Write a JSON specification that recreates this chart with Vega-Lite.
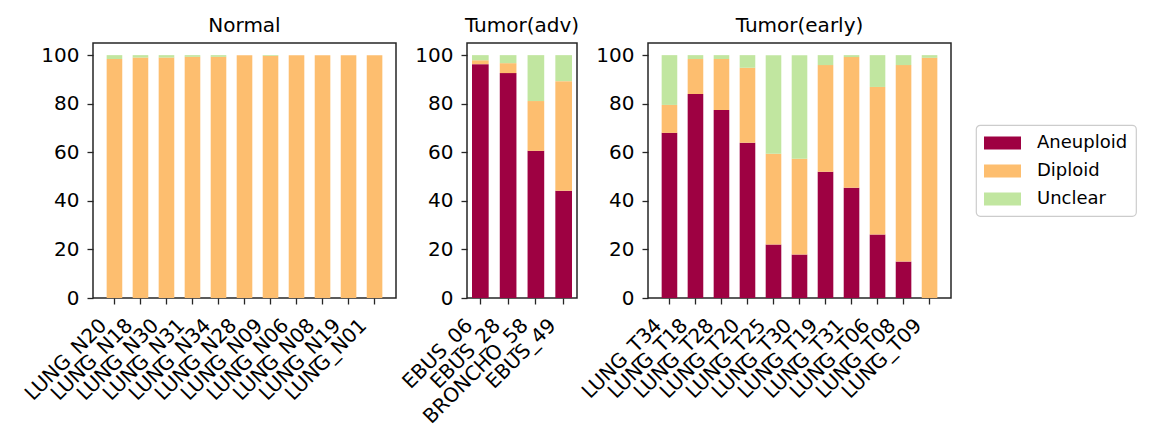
{
  "$schema": "https://vega.github.io/schema/vega-lite/v6.json",
  "padding": {"left": 20, "top": 15, "right": 0, "bottom": 0},
  "background": "white",
  "data": {"values": [
    {"group": "Normal", "sample": "LUNG_N20", "status": "Aneuploid", "value": 0},
    {"group": "Normal", "sample": "LUNG_N20", "status": "Diploid", "value": 98.4},
    {"group": "Normal", "sample": "LUNG_N20", "status": "Unclear", "value": 1.6},
    {"group": "Normal", "sample": "LUNG_N18", "status": "Aneuploid", "value": 0},
    {"group": "Normal", "sample": "LUNG_N18", "status": "Diploid", "value": 99.0},
    {"group": "Normal", "sample": "LUNG_N18", "status": "Unclear", "value": 1.0},
    {"group": "Normal", "sample": "LUNG_N30", "status": "Aneuploid", "value": 0},
    {"group": "Normal", "sample": "LUNG_N30", "status": "Diploid", "value": 99.0},
    {"group": "Normal", "sample": "LUNG_N30", "status": "Unclear", "value": 1.0},
    {"group": "Normal", "sample": "LUNG_N31", "status": "Aneuploid", "value": 0},
    {"group": "Normal", "sample": "LUNG_N31", "status": "Diploid", "value": 99.3},
    {"group": "Normal", "sample": "LUNG_N31", "status": "Unclear", "value": 0.7},
    {"group": "Normal", "sample": "LUNG_N34", "status": "Aneuploid", "value": 0},
    {"group": "Normal", "sample": "LUNG_N34", "status": "Diploid", "value": 99.3},
    {"group": "Normal", "sample": "LUNG_N34", "status": "Unclear", "value": 0.7},
    {"group": "Normal", "sample": "LUNG_N28", "status": "Aneuploid", "value": 0},
    {"group": "Normal", "sample": "LUNG_N28", "status": "Diploid", "value": 100},
    {"group": "Normal", "sample": "LUNG_N28", "status": "Unclear", "value": 0},
    {"group": "Normal", "sample": "LUNG_N09", "status": "Aneuploid", "value": 0},
    {"group": "Normal", "sample": "LUNG_N09", "status": "Diploid", "value": 99.7},
    {"group": "Normal", "sample": "LUNG_N09", "status": "Unclear", "value": 0.3},
    {"group": "Normal", "sample": "LUNG_N06", "status": "Aneuploid", "value": 0},
    {"group": "Normal", "sample": "LUNG_N06", "status": "Diploid", "value": 100},
    {"group": "Normal", "sample": "LUNG_N06", "status": "Unclear", "value": 0},
    {"group": "Normal", "sample": "LUNG_N08", "status": "Aneuploid", "value": 0},
    {"group": "Normal", "sample": "LUNG_N08", "status": "Diploid", "value": 100},
    {"group": "Normal", "sample": "LUNG_N08", "status": "Unclear", "value": 0},
    {"group": "Normal", "sample": "LUNG_N19", "status": "Aneuploid", "value": 0},
    {"group": "Normal", "sample": "LUNG_N19", "status": "Diploid", "value": 100},
    {"group": "Normal", "sample": "LUNG_N19", "status": "Unclear", "value": 0},
    {"group": "Normal", "sample": "LUNG_N01", "status": "Aneuploid", "value": 0},
    {"group": "Normal", "sample": "LUNG_N01", "status": "Diploid", "value": 100},
    {"group": "Normal", "sample": "LUNG_N01", "status": "Unclear", "value": 0},
    {"group": "Tumor(adv)", "sample": "EBUS_06", "status": "Aneuploid", "value": 96.3},
    {"group": "Tumor(adv)", "sample": "EBUS_06", "status": "Diploid", "value": 1.6},
    {"group": "Tumor(adv)", "sample": "EBUS_06", "status": "Unclear", "value": 2.1},
    {"group": "Tumor(adv)", "sample": "EBUS_28", "status": "Aneuploid", "value": 92.6},
    {"group": "Tumor(adv)", "sample": "EBUS_28", "status": "Diploid", "value": 4.1},
    {"group": "Tumor(adv)", "sample": "EBUS_28", "status": "Unclear", "value": 3.3},
    {"group": "Tumor(adv)", "sample": "BRONCHO_58", "status": "Aneuploid", "value": 60.6},
    {"group": "Tumor(adv)", "sample": "BRONCHO_58", "status": "Diploid", "value": 20.5},
    {"group": "Tumor(adv)", "sample": "BRONCHO_58", "status": "Unclear", "value": 18.9},
    {"group": "Tumor(adv)", "sample": "EBUS_49", "status": "Aneuploid", "value": 44.2},
    {"group": "Tumor(adv)", "sample": "EBUS_49", "status": "Diploid", "value": 45.1},
    {"group": "Tumor(adv)", "sample": "EBUS_49", "status": "Unclear", "value": 10.7},
    {"group": "Tumor(early)", "sample": "LUNG_T34", "status": "Aneuploid", "value": 68.0},
    {"group": "Tumor(early)", "sample": "LUNG_T34", "status": "Diploid", "value": 11.5},
    {"group": "Tumor(early)", "sample": "LUNG_T34", "status": "Unclear", "value": 20.5},
    {"group": "Tumor(early)", "sample": "LUNG_T18", "status": "Aneuploid", "value": 84.0},
    {"group": "Tumor(early)", "sample": "LUNG_T18", "status": "Diploid", "value": 14.4},
    {"group": "Tumor(early)", "sample": "LUNG_T18", "status": "Unclear", "value": 1.6},
    {"group": "Tumor(early)", "sample": "LUNG_T28", "status": "Aneuploid", "value": 77.4},
    {"group": "Tumor(early)", "sample": "LUNG_T28", "status": "Diploid", "value": 21.0},
    {"group": "Tumor(early)", "sample": "LUNG_T28", "status": "Unclear", "value": 1.6},
    {"group": "Tumor(early)", "sample": "LUNG_T20", "status": "Aneuploid", "value": 63.9},
    {"group": "Tumor(early)", "sample": "LUNG_T20", "status": "Diploid", "value": 30.9},
    {"group": "Tumor(early)", "sample": "LUNG_T20", "status": "Unclear", "value": 5.2},
    {"group": "Tumor(early)", "sample": "LUNG_T25", "status": "Aneuploid", "value": 22.0},
    {"group": "Tumor(early)", "sample": "LUNG_T25", "status": "Diploid", "value": 37.4},
    {"group": "Tumor(early)", "sample": "LUNG_T25", "status": "Unclear", "value": 40.6},
    {"group": "Tumor(early)", "sample": "LUNG_T30", "status": "Aneuploid", "value": 17.9},
    {"group": "Tumor(early)", "sample": "LUNG_T30", "status": "Diploid", "value": 39.4},
    {"group": "Tumor(early)", "sample": "LUNG_T30", "status": "Unclear", "value": 42.7},
    {"group": "Tumor(early)", "sample": "LUNG_T19", "status": "Aneuploid", "value": 52.0},
    {"group": "Tumor(early)", "sample": "LUNG_T19", "status": "Diploid", "value": 43.9},
    {"group": "Tumor(early)", "sample": "LUNG_T19", "status": "Unclear", "value": 4.1},
    {"group": "Tumor(early)", "sample": "LUNG_T31", "status": "Aneuploid", "value": 45.4},
    {"group": "Tumor(early)", "sample": "LUNG_T31", "status": "Diploid", "value": 53.8},
    {"group": "Tumor(early)", "sample": "LUNG_T31", "status": "Unclear", "value": 0.8},
    {"group": "Tumor(early)", "sample": "LUNG_T06", "status": "Aneuploid", "value": 26.1},
    {"group": "Tumor(early)", "sample": "LUNG_T06", "status": "Diploid", "value": 60.8},
    {"group": "Tumor(early)", "sample": "LUNG_T06", "status": "Unclear", "value": 13.1},
    {"group": "Tumor(early)", "sample": "LUNG_T08", "status": "Aneuploid", "value": 15.0},
    {"group": "Tumor(early)", "sample": "LUNG_T08", "status": "Diploid", "value": 80.9},
    {"group": "Tumor(early)", "sample": "LUNG_T08", "status": "Unclear", "value": 4.1},
    {"group": "Tumor(early)", "sample": "LUNG_T09", "status": "Aneuploid", "value": 0},
    {"group": "Tumor(early)", "sample": "LUNG_T09", "status": "Diploid", "value": 98.9},
    {"group": "Tumor(early)", "sample": "LUNG_T09", "status": "Unclear", "value": 1.1}
  ]},
  "bounds": "flush",
  "spacing": 71,
  "hconcat": [
    {
      "width": 303, "height": 255,
      "title": "Normal",
      "transform": [{"filter": "datum.group === 'Normal'"}],
      "mark": {"type": "bar"},
      "encoding": {
        "x": {"field": "sample", "type": "nominal",
          "sort": ["LUNG_N20","LUNG_N18","LUNG_N30","LUNG_N31","LUNG_N34","LUNG_N28","LUNG_N09","LUNG_N06","LUNG_N08","LUNG_N19","LUNG_N01"],
          "scale": {"paddingInner": 0.4, "paddingOuter": 0.525}, "axis": {"title": null}},
        "y": {"field": "value", "type": "quantitative", "stack": "zero", "scale": {"domain": [0, 105], "nice": false}, "axis": {"title": null, "values": [0, 20, 40, 60, 80, 100]}},
        "color": {"field": "status", "type": "nominal", "scale": {"domain": ["Aneuploid", "Diploid", "Unclear"], "range": ["#9e0142", "#fdbe6f", "#c1e6a0"]}, "legend": {"title": null, "orient": "none", "legendX": 883, "legendY": 82}},
        "order": {"field": "status"}
      }
    },
    {
      "width": 110, "height": 255,
      "title": "Tumor(adv)",
      "transform": [{"filter": "datum.group === 'Tumor(adv)'"}],
      "mark": {"type": "bar"},
      "encoding": {
        "x": {"field": "sample", "type": "nominal",
          "sort": ["EBUS_06","EBUS_28","BRONCHO_58","EBUS_49"],
          "scale": {"paddingInner": 0.4, "paddingOuter": 0.18}, "axis": {"title": null}},
        "y": {"field": "value", "type": "quantitative", "stack": "zero", "scale": {"domain": [0, 105], "nice": false}, "axis": {"title": null, "values": [0, 20, 40, 60, 80, 100]}},
        "color": {"field": "status", "type": "nominal", "scale": {"domain": ["Aneuploid", "Diploid", "Unclear"], "range": ["#9e0142", "#fdbe6f", "#c1e6a0"]}, "legend": {"title": null, "orient": "none", "legendX": 883, "legendY": 82}},
        "order": {"field": "status"}
      }
    },
    {
      "width": 303, "height": 255,
      "title": "Tumor(early)",
      "transform": [{"filter": "datum.group === 'Tumor(early)'"}],
      "mark": {"type": "bar"},
      "encoding": {
        "x": {"field": "sample", "type": "nominal",
          "sort": ["LUNG_T34","LUNG_T18","LUNG_T28","LUNG_T20","LUNG_T25","LUNG_T30","LUNG_T19","LUNG_T31","LUNG_T06","LUNG_T08","LUNG_T09"],
          "scale": {"paddingInner": 0.4, "paddingOuter": 0.525}, "axis": {"title": null}},
        "y": {"field": "value", "type": "quantitative", "stack": "zero", "scale": {"domain": [0, 105], "nice": false}, "axis": {"title": null, "values": [0, 20, 40, 60, 80, 100]}},
        "color": {"field": "status", "type": "nominal", "scale": {"domain": ["Aneuploid", "Diploid", "Unclear"], "range": ["#9e0142", "#fdbe6f", "#c1e6a0"]}, "legend": {"title": null, "orient": "none", "legendX": 883, "legendY": 82}},
        "order": {"field": "status"}
      }
    }
  ],
  "resolve": {"scale": {"color": "shared"}},
  "config": {
    "font": "DejaVu Sans",
    "view": {"stroke": "#262626", "strokeWidth": 1.5},
    "axis": {
      "domain": false, "grid": false,
      "labelFont": "DejaVu Sans", "labelFontSize": 20, "labelColor": "#000000",
      "tickColor": "#262626", "tickSize": 6, "tickWidth": 1.3
    },
    "axisX": {"labelAngle": -45, "labelAlign": "right", "labelBaseline": "top", "labelOverlap": false, "labelPadding": 11, "labelOffset": -18},
    "axisY": {"labelPadding": 8},
    "title": {"font": "DejaVu Sans", "fontSize": 20, "fontWeight": "normal", "color": "#000000", "offset": 7, "baseline": "alphabetic", "anchor": "middle"},
    "legend": {
      "labelFont": "DejaVu Sans", "labelFontSize": 18, "labelColor": "#000000",
      "symbolType": "M-1.85,-0.65H1.85V0.65H-1.85Z", "symbolSize": 400, "symbolStrokeWidth": 0, "symbolOpacity": 1, "symbolOffset": 8.5,
      "strokeColor": "#cccccc", "strokeWidth": 1.2, "cornerRadius": 4, "fillColor": "white", "padding": 8,
      "labelOffset": 24.5, "rowPadding": 9
    }
  }
}
